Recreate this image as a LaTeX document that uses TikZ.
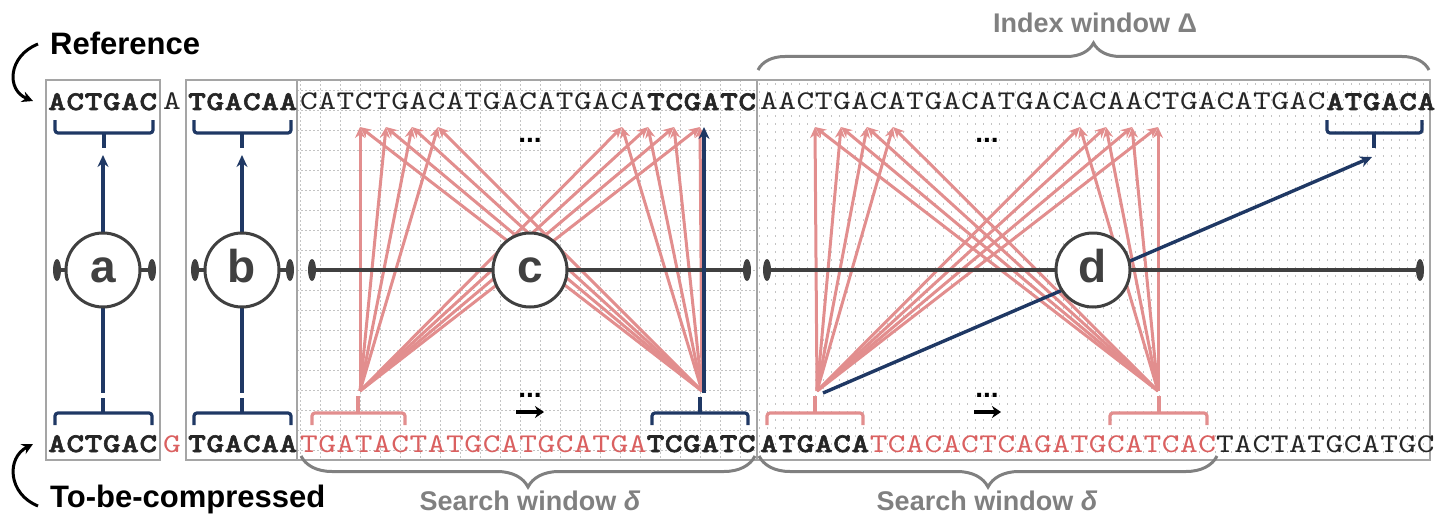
\documentclass[tikz,border=0pt]{standalone}
\usepackage{fontspec}
\setmainfont{Liberation Sans}
\newfontfamily\seqfont{lmmono10-regular.otf}[BoldFont=lmmonolt10-bold.otf, BoldFeatures={FakeBold=2.2}, FakeStretch=1.25, LetterSpace=2]
\usetikzlibrary{arrows.meta,decorations.pathreplacing}
\definecolor{blueC}{RGB}{31,56,100}
\definecolor{pinkC}{RGB}{226,142,142}
\definecolor{redT}{RGB}{218,96,96}
\definecolor{greyC}{RGB}{128,128,128}
\definecolor{darkC}{RGB}{64,64,64}
\definecolor{boxC}{RGB}{165,165,165}
\definecolor{gridC}{RGB}{195,195,195}
\begin{document}
\begin{tikzpicture}[x=1pt,y=-1pt,
  seq/.style={inner sep=0pt, anchor=base west, font=\seqfont\fontsize{27}{27}\selectfont, text=black!85},
  lbl/.style={inner sep=0pt, anchor=base west, font=\bfseries\fontsize{31}{31}\selectfont},
  glbl/.style={inner sep=0pt, anchor=base, text=greyC, font=\bfseries\fontsize{27}{27}\selectfont},
  dots/.style={inner sep=0pt, anchor=base, font=\bfseries\fontsize{28}{28}\selectfont},
  boxline/.style={draw=boxC, line width=1.5pt},
  bluebr/.style={draw=blueC, line width=3.2pt, rounded corners=3pt},
  pinkbr/.style={draw=pinkC, line width=3.2pt, rounded corners=3pt},
  bluearr/.style={draw=blueC, line width=3.4pt, -{Stealth[length=12pt,width=11pt]}},
  pinkarr/.style={draw=pinkC, line width=3pt, -{Stealth[length=11pt,width=10pt]}},
  hline/.style={draw=darkC, line width=3.5pt},
  capdot/.style={fill=darkC},
  circ/.style={circle, draw=darkC, line width=3pt, fill=white, minimum size=74pt, inner sep=0pt, text=darkC, font=\bfseries\fontsize{46}{46}\selectfont, text height=25pt, text depth=0pt},
  gbrace/.style={draw=greyC, line width=3pt, decorate, decoration={brace, amplitude=#1}},
  blackarr/.style={draw=black, line width=3pt, -{Stealth[length=11pt,width=11pt]}},
  smallarr/.style={draw=black, line width=4pt, -{Stealth[length=9pt,width=12pt]}},
]
\useasboundingbox (0,0) rectangle (1440,519);

% ---------- backgrounds ----------
\begin{scope}
  \clip (297,80) rectangle (757,460);
  \foreach \x in {300,320,...,760} \draw[gridC, line width=0.9pt, dash pattern=on 2pt off 2pt] (\x,80) -- (\x,460);
  \foreach \y in {90,110,...,460} \draw[gridC, line width=0.9pt, dash pattern=on 2pt off 2pt] (297,\y) -- (757,\y);
\end{scope}
\begin{scope}
  \clip (757,80) rectangle (1430,460);
  \foreach \y in {84,92,...,460} \draw[gridC, line width=1.3pt, dash pattern=on 1.3pt off 6.7pt] (759,\y) -- (1430,\y);
\end{scope}
\draw[boxline] (46,80) rectangle (160,460);
\draw[boxline] (186,80) rectangle (297,460);
\draw[boxline] (297,80) rectangle (757,460);
\draw[boxline] (757,80) rectangle (1430,460);

% ---------- sequences ----------
\node[seq] (r1) at (48,110) {\bfseries ACTGAC};
\node[seq] (r2) at (163,110) {A};
\node[seq] (r3) at (188,110) {\bfseries TGACAA};
\node[seq] (r4) at (300,110) {CATCTGACATGACATGACA\textbf{TCGATC}};
\node[seq] (r5) at (760,110) {AACTGACATGACATGACACAACTGACATGAC\textbf{ATGACA}};

\node[seq] (s1) at (48,452) {\bfseries ACTGAC};
\node[seq, text=redT] (s2) at (163,452) {G};
\node[seq] (s3) at (188,452) {\bfseries TGACAA};
\node[seq] (s4) at (300,452) {\textcolor{redT}{TGATACTATGCATGCATGA}\textbf{TCGATC}};
\node[seq] (s5) at (760,452) {\textbf{ATGACA}\textcolor{redT}{TCACACTCAGATGCATCAC}TACTATGCATGC};

% ---------- labels ----------
\node[lbl] (lref) at (50,55) {Reference};
\node[lbl] (lcmp) at (50,507) {To-be-compressed};
\node[glbl] (lsw1) at (530,510) {Search window \textit{δ}};
\node[glbl] (lsw2) at (987,510) {Search window \textit{δ}};
\node[glbl] (liw) at (1095,33) {Index window Δ};

\coordinate (refA) at (38,44);
\coordinate (refB) at (33,101);
\coordinate (cmpA) at (38,506);
\coordinate (cmpB) at (33,444);
\draw[blackarr] (refA) .. controls (8,56) and (6,90) .. (refB);
\draw[blackarr] (cmpA) .. controls (8,494) and (6,458) .. (cmpB);

% ---------- braces ----------
\draw[gbrace=31pt] (755,456) -- (301,456);
\draw[gbrace=31pt] (1217,456) -- (759,456);
\draw[gbrace=27pt] (758,70) -- (1429,70);

% ---------- brackets ----------
\draw[bluebr] (55,120) -- (55,133) -- (153,133) -- (153,120);
\draw[bluebr] (104,133) -- (104,148);
\draw[bluebr] (194,120) -- (194,133) -- (291,133) -- (291,120);
\draw[bluebr] (242,133) -- (242,148);
\draw[bluebr] (1327,120) -- (1327,133) -- (1422,133) -- (1422,120);
\draw[bluebr] (1374,133) -- (1374,148);

\draw[bluebr] (55,425) -- (55,413) -- (152,413) -- (152,425);
\draw[bluebr] (103,413) -- (103,398);
\draw[bluebr] (194,425) -- (194,413) -- (291,413) -- (291,425);
\draw[bluebr] (242,413) -- (242,398);
\draw[pinkbr] (312,425) -- (312,413) -- (405,413) -- (405,425);
\draw[pinkbr] (358,413) -- (358,396);
\draw[bluebr] (652,425) -- (652,413) -- (748,413) -- (748,425);
\draw[bluebr] (700,413) -- (700,397);
\draw[pinkbr] (767,425) -- (767,413) -- (863,413) -- (863,425);
\draw[pinkbr] (815,413) -- (815,396);
\draw[pinkbr] (1110,425) -- (1110,413) -- (1207,413) -- (1207,425);
\draw[pinkbr] (1159,413) -- (1159,396);

% ---------- pink candidate arrows ----------
\coordinate (cL) at (360,391);
\coordinate (cR) at (702,391);
\foreach \i/\x in {1/360,2/386,3/412,4/438,5/622,6/648,7/674,8/700} \coordinate (ct\i) at (\x,127);
\foreach \i in {1,...,8} {\draw[pinkarr] (cL) -- (ct\i); \draw[pinkarr] (cR) -- (ct\i);}
\coordinate (dL) at (817,391);
\coordinate (dR) at (1158,391);
\foreach \i/\x in {1/815,2/841,3/867,4/893,5/1080,6/1106,7/1132,8/1158} \coordinate (dt\i) at (\x,127);
\foreach \i in {1,...,8} {\draw[pinkarr] (dL) -- (dt\i); \draw[pinkarr] (dR) -- (dt\i);}

% ---------- horizontal axes ----------
\coordinate (aC) at (103,270);
\coordinate (bC) at (242,270);
\coordinate (cC) at (530,270);
\coordinate (dC) at (1093,270);
\coordinate (aE1) at (57,270);  \coordinate (aE2) at (152,270);
\coordinate (bE1) at (195,270); \coordinate (bE2) at (290,270);
\coordinate (cE1) at (312,270); \coordinate (cE2) at (747,270);
\coordinate (dE1) at (767,270); \coordinate (dE2) at (1420,270);
\foreach \p in {a,b,c,d} {
  \draw[hline] (\p E1) -- (\p E2);
  \fill[capdot] (\p E1) ellipse [x radius=4pt, y radius=11pt];
  \fill[capdot] (\p E2) ellipse [x radius=4pt, y radius=11pt];
}

% ---------- blue matches ----------
\coordinate (aTop) at (103,155);
\coordinate (aBot) at (103,393);
\coordinate (bTop) at (242,155);
\coordinate (bBot) at (242,393);
\draw[bluearr] (aC) -- (aTop);
\draw[draw=blueC, line width=3.4pt] (aC) -- (aBot);
\draw[bluearr] (bC) -- (bTop);
\draw[draw=blueC, line width=3.4pt] (bC) -- (bBot);
\coordinate (cB) at (704,393);
\coordinate (cBt) at (704,127);
\draw[bluearr] (cB) -- (cBt);
\coordinate (dB) at (823,393);
\coordinate (dBt) at (1372,157);
\draw[bluearr] (dB) -- (dBt);

% ---------- dots and small arrows ----------
\node[dots] (cd1) at (530,142) {...};
\node[dots] (cd2) at (530,397) {...};
\node[dots] (dd1) at (987,142) {...};
\node[dots] (dd2) at (987,397) {...};
\coordinate (ca1) at (516,412); \coordinate (ca2) at (544,412);
\coordinate (da1) at (974,412); \coordinate (da2) at (1001,412);
\draw[smallarr] (ca1) -- (ca2);
\draw[smallarr] (da1) -- (da2);

% ---------- circles ----------
\node[circ] (a) at (aC) {a};
\node[circ] (b) at (bC) {b};
\node[circ] (c) at (cC) {c};
\node[circ] (d) at (dC) {d};
\end{tikzpicture}
\end{document}
